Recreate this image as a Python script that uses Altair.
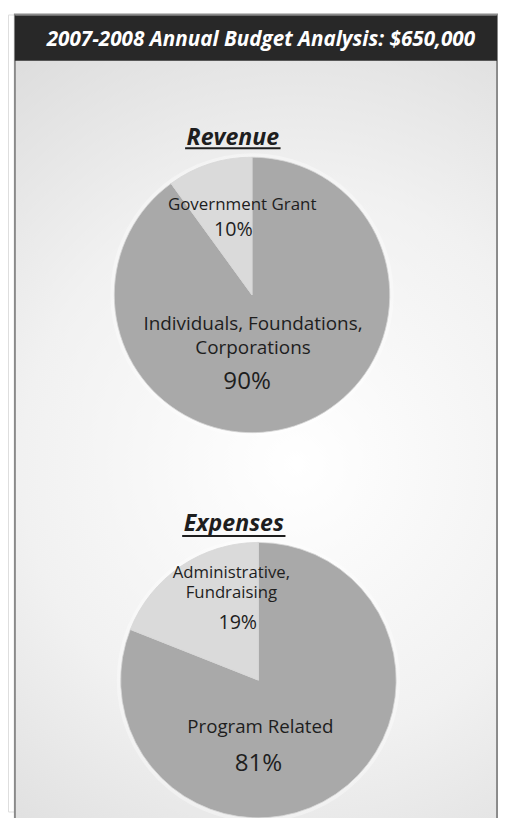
import altair as alt
import pandas as pd

title_text = "2007-2008 Annual Budget Analysis: $650,000"
revenue_title = "Revenue"
expenses_title = "Expenses"

revenue_categories = ["Individuals, Foundations, Corporations", "Government Grant"]
revenue_values = [90, 10]
revenue_labels = ["Individuals, Foundations,\nCorporations", "Government Grant"]

expenses_categories = ["Program Related", "Administrative, Fundraising"]
expenses_values = [81, 19]
expenses_labels = ["Program Related", "Administrative,\nFundraising"]

FONT = "Open Sans"
MAIN = "#a9a9a9"
MINOR = "#dadada"
INK = "#1e1e1e"

blank = alt.Data(values=[{}])

gradient = alt.RadialGradient(
    gradient="radial",
    stops=[
        alt.GradientStop(offset=0, color="#ffffff"),
        alt.GradientStop(offset=0.45, color="#f1f1f1"),
        alt.GradientStop(offset=1, color="#d2d2d2"),
    ],
    x1=0.55, y1=0.55, r1=0, x2=0.55, y2=0.55, r2=0.75,
)

frame = alt.Chart(blank).mark_rect(fill=gradient, stroke="#8a8a8a", strokeWidth=2).encode(
    x=alt.value(7), x2=alt.value(497), y=alt.value(0), y2=alt.value(830)
)
header = alt.Chart(blank).mark_rect(fill="#282828").encode(
    x=alt.value(7), x2=alt.value(497), y=alt.value(1), y2=alt.value(47)
)
header_text = alt.Chart(blank).mark_text(
    text=title_text, font=FONT, fontSize=21, fontWeight="bold", fontStyle="italic",
    color="white", align="center", baseline="alphabetic"
).encode(x=alt.value(257), y=alt.value(32))


def section_title(txt, cx, by, ux1, ux2, uy):
    t = alt.Chart(blank).mark_text(
        text=txt, font=FONT, fontSize=23.5, fontWeight="bold", fontStyle="italic",
        color=INK, align="center", baseline="alphabetic"
    ).encode(x=alt.value(cx), y=alt.value(by))
    u = alt.Chart(blank).mark_rule(color=INK, strokeWidth=2).encode(
        x=alt.value(ux1), x2=alt.value(ux2), y=alt.value(uy)
    )
    return [t, u]


color_scale = alt.Scale(
    domain=revenue_categories + expenses_categories,
    range=[MAIN, MINOR, MAIN, MINOR],
)


def halo(cx, cy):
    return alt.Chart(blank).mark_arc(
        outerRadius=144, theta=0, theta2=6.2832, fill="white", opacity=0.35
    ).encode(x=alt.value(cx), y=alt.value(cy))


def pie(cats, vals, cx, cy):
    df = pd.DataFrame({"category": cats, "share": vals, "rank": list(range(len(cats)))})
    return alt.Chart(df).mark_arc(outerRadius=140, stroke="#d6d6d6", strokeWidth=0.8).encode(
        theta=alt.Theta("share:Q", stack=True),
        order=alt.Order("rank:O"),
        color=alt.Color("category:N", scale=color_scale, legend=None),
        x=alt.value(cx),
        y=alt.value(cy),
    )


def label(txt, cx, by, size, lh=24):
    return alt.Chart(blank).mark_text(
        text=txt, font=FONT, fontSize=size, color=INK, align="center",
        baseline="alphabetic", lineBreak="\n", lineHeight=lh
    ).encode(x=alt.value(cx), y=alt.value(by))


layers = [frame, header, header_text]
layers += section_title(revenue_title, 228.5, 133, 180, 277, 136)
layers.append(halo(248, 285))
layers.append(pie(revenue_categories, revenue_values, 248, 285))
layers.append(label(revenue_labels[1], 238, 199, 17.2))
layers.append(label(f"{revenue_values[1]}%", 229, 225, 20))
layers.append(label(revenue_labels[0], 249, 321, 19.2, 24))
layers.append(label(f"{revenue_values[0]}%", 243, 381, 24.5))

layers += section_title(expenses_title, 229.5, 524.5, 177, 282, 530)
layers.append(halo(254.5, 676.5))
layers.append(pie(expenses_categories, expenses_values, 254.5, 676.5))
layers.append(label(expenses_labels[1], 227, 572.5, 17, 21))
layers.append(label(f"{expenses_values[1]}%", 233.5, 624.5, 20))
layers.append(label(expenses_labels[0], 256.5, 730, 19))
layers.append(label(f"{expenses_values[0]}%", 254.5, 768.5, 24.5))

chart = alt.layer(*layers).resolve_scale(theta="independent").properties(
    width=498, height=810, padding=0, autosize="none"
).configure_view(stroke=None).configure(background="white")

chart.save("out.html", embed_options={"renderer": "svg", "actions": False})
